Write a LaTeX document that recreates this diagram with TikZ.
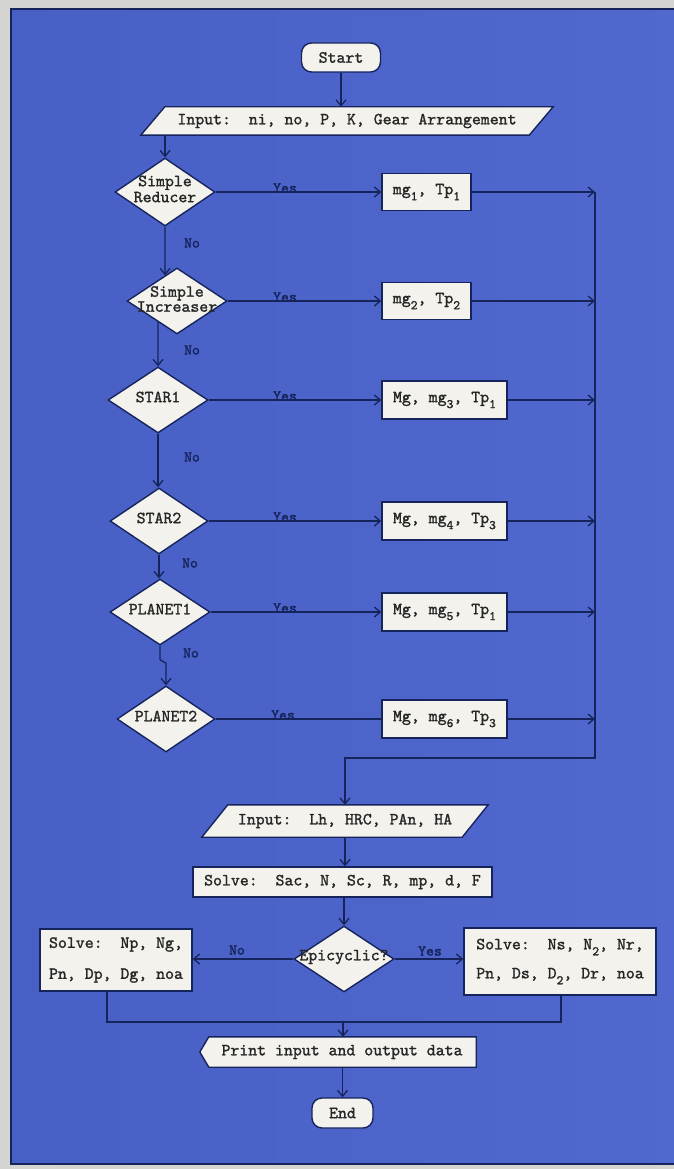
\documentclass[tikz,border=0pt]{standalone}
\usepackage{fontspec}
\newfontfamily\tyfam{lmmono10-regular.otf}[FakeBold=1.4]
\newfontfamily\tylab{lmmono10-regular.otf}[FakeBold=1.8]
\usetikzlibrary{shapes.geometric,arrows.meta,backgrounds,calc}
\definecolor{bgblueL}{HTML}{4860C6}
\definecolor{bgblueR}{HTML}{5169CF}
\definecolor{frame}{HTML}{D4D4D2}
\definecolor{ink}{HTML}{16245C}
\definecolor{paper}{HTML}{F3F2EC}
\definecolor{txt}{HTML}{262626}
\newcommand{\tfont}{\tyfam\fontsize{17pt}{19pt}\selectfont}
\newcommand{\lfont}{\tylab\fontsize{15pt}{17pt}\selectfont}
\newcommand{\lsub}[1]{\raisebox{-0.35em}{\fontsize{13pt}{13pt}\selectfont #1}}
\begin{document}
\begin{tikzpicture}[x=1pt,y=-1pt,
  conn/.style={draw=ink, line width=1.3pt},
  arr/.style={-{Straight Barb[length=6pt,width=10pt]}},
  box/.style={rectangle, draw=ink, fill=paper, line width=1.4pt, inner sep=0pt, font=\tfont, text=txt},
  term/.style={box, rounded corners=10pt},
  ptext/.style={rectangle, inner sep=0pt, font=\tfont, text=txt},
  dia/.style={diamond, draw=ink, fill=paper, line width=1.4pt, inner sep=0pt},
  dtext/.style={inner sep=0pt, font=\tfont, text=txt, align=center},
  shp/.style={draw=ink, fill=paper, line width=1.4pt},
  lab/.style={inner sep=0pt, font=\lfont, text=ink}]
\useasboundingbox (0,0) rectangle (674,1169);

% ---- top part
\node[term, minimum width=79pt, minimum height=29pt] (start) at (341,57.5) {Start};
\node[ptext, minimum width=388pt, minimum height=28pt] (in1) at (347,121) {Input:\ \ ni, no, P, K, Gear Arrangement};

\node[dia, minimum width=100pt, minimum height=68pt] (d1) at (165,192) {};
\node[dtext, font=\tyfam\fontsize{17pt}{16pt}\selectfont] (t1) at ([yshift=3pt]d1.center) {Simple\\Reducer};
\node[dia, minimum width=100pt, minimum height=66pt] (d2) at (177,301) {};
\node[dtext, font=\tyfam\fontsize{17pt}{15pt}\selectfont] (t2) at ([yshift=2pt]d2.center) {Simple\\Increaser};
\node[dia, minimum width=100pt, minimum height=66pt] (d3) at (158,400) {};
\node[dtext] (t3) at ([yshift=3pt]d3.center) {STAR1};
\node[dia, minimum width=98pt, minimum height=66pt] (d4) at (159,521) {};
\node[dtext] (t4) at ([yshift=3pt]d4.center) {STAR2};
\node[dia, minimum width=100pt, minimum height=66pt] (d5) at (160,612) {};
\node[dtext] (t5) at ([yshift=3pt]d5.center) {PLANET1};
\node[dia, minimum width=98pt, minimum height=66pt] (d6) at (166,719) {};
\node[dtext] (t6) at ([yshift=3pt]d6.center) {PLANET2};

\node[box, minimum width=89pt, minimum height=37pt] (b1) at (426.5,192) {mg\lsub{1}, Tp\lsub{1}};
\node[box, minimum width=89pt, minimum height=37pt] (b2) at (426.5,301) {mg\lsub{2}, Tp\lsub{2}};
\node[box, minimum width=125pt, minimum height=38pt] (b3) at (444.5,400) {Mg, mg\lsub{3}, Tp\lsub{1}};
\node[box, minimum width=125pt, minimum height=38pt] (b4) at (444.5,521) {Mg, mg\lsub{4}, Tp\lsub{3}};
\node[box, minimum width=125pt, minimum height=38pt] (b5) at (444.5,612) {Mg, mg\lsub{5}, Tp\lsub{1}};
\node[box, minimum width=125pt, minimum height=38pt] (b6) at (444.5,719) {Mg, mg\lsub{6}, Tp\lsub{3}};

\coordinate (colTop) at (595,192);
\coordinate (colBot) at (595,758);

% ---- bottom part
\node[ptext, minimum width=260pt, minimum height=32pt] (in2) at (345,821) {Input:\ \ Lh, HRC, PAn, HA};
\node[box, minimum width=299pt, minimum height=30pt] (sv) at (342.5,882) {Solve:\ \ Sac, N, Sc, R, mp, d, F};
\node[dia, minimum width=100pt, minimum height=66pt] (ep) at (344,959) {};
\node[dtext] (te) at ([yshift=2pt]ep.center) {Epicyclic?};
\node[box, minimum width=152pt, minimum height=62pt, align=left] (lb) at (116,960) {Solve:\ \ Np, Ng,\\[12pt]Pn, Dp, Dg, noa};
\node[box, minimum width=192pt, minimum height=67pt, align=left] (rb) at (560,961.5) {Solve:\ \ Ns, N\lsub{2}, Nr,\\[10pt]Pn, Ds, D\lsub{2}, Dr, noa};
\coordinate (jn) at (343,1022);
\node[ptext, minimum width=276pt, minimum height=30pt] (pr) at (338,1052) {\hspace{8pt}Print input and output data};
\node[term, minimum width=61pt, minimum height=30pt] (en) at (342.5,1113) {End};

% ---- connectors
\draw[conn,arr] (start.south) -- (start.south |- in1.north);
\draw[conn,arr] (d1.north |- in1.south) -- (d1.north);
\draw[conn,arr] (d1.south) -- (intersection of d1.north--d1.south and d2.north--d2.west);
\draw[conn,arr] (intersection of d3.north--d3.south and d2.west--d2.south) -- (d3.north);
\draw[conn,arr] (d3.south) -- (d3.south |- d4.north);
\draw[conn,arr] (d4.south) -- (d4.south |- d5.north);
\draw[conn,arr] (d5.south) -- ++(0,14) -- ($(d6.north)+(0,-22)$) -- (d6.north);

\draw[conn,arr] (d1.east) -- (b1.west);
\draw[conn,arr] (d2.east) -- (b2.west);
\draw[conn,arr] (d3.east) -- (b3.west);
\draw[conn,arr] (d4.east) -- (b4.west);
\draw[conn,arr] (d5.east) -- (b5.west);
\draw[conn] (d6.east) -- (b6.west);

\draw[conn,arr] (b1.east) -- (b1.east -| colTop);
\draw[conn,arr] (b2.east) -- (b2.east -| colTop);
\draw[conn,arr] (b3.east) -- (b3.east -| colTop);
\draw[conn,arr] (b4.east) -- (b4.east -| colTop);
\draw[conn,arr] (b5.east) -- (b5.east -| colTop);
\draw[conn,arr] (b6.east) -- (b6.east -| colTop);
\draw[conn,arr] (colTop) -- (colBot) -- (colBot -| in2.north) -- (in2.north);

\draw[conn,arr] (in2.south) -- (in2.south |- sv.north);
\draw[conn,arr] (ep.north |- sv.south) -- (ep.north);
\draw[conn,arr] (ep.west) -- (ep.west -| lb.east);
\draw[conn,arr] (ep.east) -- (ep.east -| rb.west);
\draw[conn] ([xshift=-9pt]lb.south) |- (jn);
\draw[conn] ([xshift=1pt]rb.south) |- (jn);
\draw[conn,arr] (jn) -- (jn |- pr.north);
\draw[conn,arr] (en.north |- pr.south) -- (en.north);

% ---- labels
\node[lab] (n1) at (192,243) {No};
\node[lab] (n2) at (192,350) {No};
\node[lab] (n3) at (192,457) {No};
\node[lab] (n4) at (190,563) {No};
\node[lab] (n5) at (191,653) {No};
\node[lab] (n6) at (237,950) {No};
\node[lab] (y1) at (285,188) {Yes};
\node[lab] (y2) at (285,297) {Yes};
\node[lab] (y3) at (285,396) {Yes};
\node[lab] (y4) at (285,517) {Yes};
\node[lab] (y5) at (285,608) {Yes};
\node[lab] (y6) at (283,715) {Yes};
\node[lab] (y7) at (430,951) {Yes};

% ---- background and hand-drawn shapes
\begin{scope}[on background layer]
\fill[frame] (0,0) rectangle (674,1169);
\shade[left color=bgblueL, right color=bgblueR] (11,9) rectangle (690,1164);
\draw[ink, line width=1.5pt] (690,9) -- (11,9) -- (11,1164) -- (690,1164);
\filldraw[shp] ([xshift=-12pt]in1.south west) -- ([xshift=-12pt]in1.south east) -- ([xshift=12pt]in1.north east) -- ([xshift=12pt]in1.north west) -- cycle;
\filldraw[shp] ([xshift=-13pt]in2.south west) -- ([xshift=-13pt]in2.south east) -- ([xshift=13pt]in2.north east) -- ([xshift=13pt]in2.north west) -- cycle;
\filldraw[shp] (pr.west) -- ([xshift=9pt]pr.north west) -- (pr.north east) -- (pr.south east) -- ([xshift=9pt]pr.south west) -- cycle;
\end{scope}
\end{tikzpicture}
\end{document}
